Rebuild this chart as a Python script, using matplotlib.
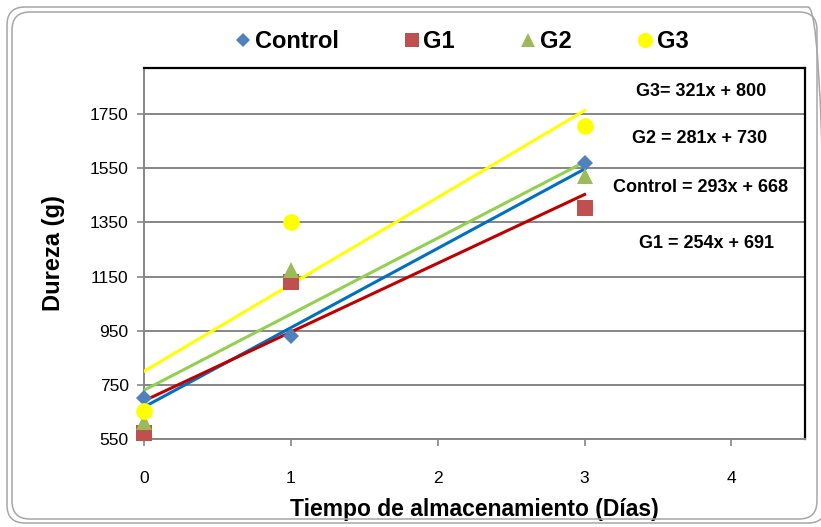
import matplotlib
matplotlib.use('Agg')
import matplotlib.pyplot as plt
from matplotlib.patches import FancyBboxPatch
from matplotlib.lines import Line2D
from matplotlib.transforms import IdentityTransform
import numpy as np

plt.rcParams['font.family'] = ['Liberation Sans', 'DejaVu Sans']

# data
dias = [0, 1, 3]
series = ['Control', 'G1', 'G2', 'G3']
control = [700, 932, 1568]
g1 = [572, 1130, 1404]
g2 = [613, 1174, 1522]
g3 = [653, 1350, 1705]
# trendline coefficients (slope, intercept) as printed on the chart
slopes = [293, 254, 281, 321]
intercepts = [668, 691, 730, 800]
ecuaciones = ['Control = 293x + 668', 'G1 = 254x + 691', 'G2 = 281x + 730', 'G3= 321x + 800']

mk_colors = ['#4F81BD', '#C0504D', '#9BBB59', '#FFFF00']
line_colors = ['#0070C0', '#C00000', '#92D050', '#FFFF00']
markers = ['D', 's', '^', 'o']
msizes = [8, 11, 11, 12]

W, H = 821, 527
fig = plt.figure(figsize=(W / 100, H / 100), dpi=100)
ax = fig.add_axes([0.1754, 0.167, 0.805, 0.704])

# rounded double frame around the chart (pixel coords)
for x0, y0, x1, y1 in [(7, 4, 826, 520), (12, 8, 817, 515)]:
    frame = FancyBboxPatch((x0, y0), x1 - x0, y1 - y0,
                           boxstyle='round,pad=0,rounding_size=18',
                           transform=IdentityTransform(), fill=False,
                           edgecolor='#A6A6A6', linewidth=1.1, zorder=0)
    fig.patches.append(frame)

ys = [control, g1, g2, g3]
xfit = np.array([0, 3])
for i in range(4):
    ax.plot(xfit, slopes[i] * xfit + intercepts[i], color=line_colors[i], lw=2.2, zorder=3)
for i in range(4):
    ax.plot(dias, ys[i], linestyle='none', marker=markers[i], markersize=msizes[i],
            color=mk_colors[i], markeredgewidth=0, zorder=4, clip_on=False)

ax.set_xlim(0, 4.5)
ax.set_ylim(550, 1920)
ax.set_xticks([0, 1, 2, 3, 4])
ax.set_yticks(np.arange(550, 1751, 200))
ax.tick_params(axis='both', colors='#868686', labelcolor='black', labelsize=12.5,
               length=5, width=1.2)
ax.tick_params(axis='x', pad=18)
ax.tick_params(axis='y', pad=6)
ax.grid(axis='y', color='#868686', lw=1.4)
ax.set_axisbelow(True)
for s in ['left', 'bottom']:
    ax.spines[s].set_color('#868686')
    ax.spines[s].set_linewidth(1.4)
for s in ['top', 'right']:
    ax.spines[s].set_color('black')
    ax.spines[s].set_linewidth(1.6)

ax.set_xlabel('Tiempo de almacenamiento (Días)', fontsize=16.5, fontweight='bold', labelpad=9)
ax.set_ylabel('Dureza (g)', fontsize=17, fontweight='bold', labelpad=18)

# equation labels
eq_pos = {'G3= 321x + 800': (701, 92), 'G2 = 281x + 730': (700, 139),
          'Control = 293x + 668': (700, 188), 'G1 = 254x + 691': (706, 243)}
for txt in ecuaciones:
    px, py = eq_pos[txt]
    fig.text(px / W, 1 - py / H, txt, ha='center', va='center',
             fontsize=13, fontweight='bold')

handles = [Line2D([], [], linestyle='none', marker=markers[i], markersize=msizes[i] - 1,
                  color=mk_colors[i], markeredgewidth=0) for i in range(4)]
fig.legend(handles, series, loc='center', bbox_to_anchor=(0.56, 1 - 42 / H), ncol=4,
           frameon=False, prop={'size': 17, 'weight': 'bold'}, handletextpad=0.0,
           columnspacing=2.6, handlelength=1.0)

fig.savefig('out.png', dpi=100)
